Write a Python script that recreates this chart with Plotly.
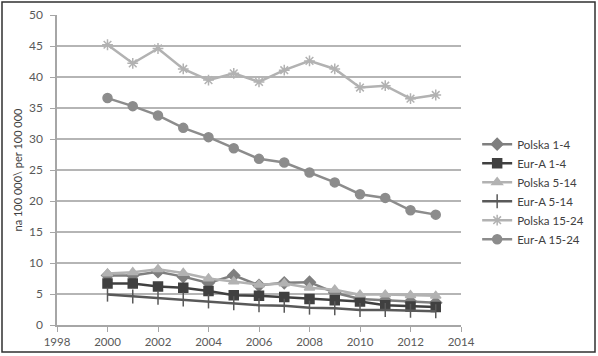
import plotly.graph_objects as go

years = list(range(2000, 2014))
polska_1_4 = [8.0, 8.0, 8.6, 7.8, 6.8, 8.0, 6.4, 6.8, 6.9, 5.2, 4.2, 4.0, 3.8, 3.6]
eura_1_4 = [6.7, 6.7, 6.2, 6.0, 5.5, 4.8, 4.7, 4.5, 4.2, 4.0, 3.8, 3.2, 3.0, 2.9]
polska_5_14 = [8.3, 8.5, 9.0, 8.4, 7.5, 7.0, 6.5, 6.7, 6.0, 5.7, 4.9, 4.9, 4.8, 4.7]
eura_5_14 = [4.9, 4.6, 4.4, 4.1, 3.8, 3.5, 3.2, 3.1, 2.8, 2.7, 2.4, 2.4, 2.3, 2.2]
polska_15_24 = [45.2, 42.2, 44.6, 41.3, 39.5, 40.6, 39.2, 41.1, 42.6, 41.3, 38.3, 38.6, 36.5, 37.1]
eura_15_24 = [36.6, 35.3, 33.8, 31.8, 30.3, 28.5, 26.8, 26.2, 24.6, 23.0, 21.1, 20.5, 18.5, 17.8]

series = [
    ("Polska 1-4", polska_1_4, "#7f7f7f", "diamond", 9),
    ("Eur-A 1-4", eura_1_4, "#404040", "square", 9),
    ("Polska 5-14", polska_5_14, "#b2b2b2", "triangle-up", 9),
    ("Eur-A 5-14", eura_5_14, "#595959", "line-ns-open", 10),
    ("Polska 15-24", polska_15_24, "#b2b2b2", "asterisk-open", 9),
    ("Eur-A 15-24", eura_15_24, "#8c8c8c", "circle", 9),
]

fig = go.Figure()
for name, vals, color, sym, size in series:
    fig.add_trace(go.Scatter(
        x=years, y=vals, name=name, mode="lines+markers",
        line=dict(color=color, width=2.5),
        marker=dict(symbol=sym, size=size, color=color,
                    line=dict(color=color, width=1.5)),
    ))

fig.update_layout(
    width=598, height=356,
    margin=dict(l=57, r=137, t=15, b=31, autoexpand=False),
    paper_bgcolor="white", plot_bgcolor="white",
    font=dict(family="Lato, Open Sans, sans-serif", size=11, color="#595959"),
    showlegend=True,
    legend=dict(x=1.04, y=0.43, xanchor="left", yanchor="middle",
                font=dict(size=11.5, color="#404040"),
                itemwidth=30, tracegroupgap=0, bgcolor="rgba(0,0,0,0)"),
    xaxis=dict(range=[1998, 2014], tickmode="linear", tick0=1998, dtick=2,
               showgrid=False, zeroline=False, showline=True, automargin=False,
               linecolor="#a6a6a6", linewidth=1.5,
               ticks="outside", ticklen=5, tickcolor="#a6a6a6",
               tickfont=dict(size=11.5, color="#595959")),
    yaxis=dict(range=[0, 50], tickmode="linear", tick0=0, dtick=5,
               showgrid=True, gridcolor="#b5b5b5", gridwidth=1.5,
               zeroline=False, showline=True, automargin=False,
               linecolor="#a6a6a6", linewidth=1.5,
               ticks="outside", ticklen=5, tickcolor="#a6a6a6",
               ticklabelstandoff=5,
               tickfont=dict(size=12, color="#595959"),
               title=dict(text="na 100 000\\ per 100 000",
                          font=dict(size=11, color="#404040"), standoff=4)),
    shapes=[dict(type="rect", xref="paper", yref="paper",
                 x0=-55/404, x1=(595-57)/404, y0=-(352-325)/310, y1=(325-2)/310,
                 line=dict(color="#303030", width=1.5))],
)

fig.write_html("out.html", config={"displayModeBar": False},
               post_script="document.body.style.margin='0px';")
